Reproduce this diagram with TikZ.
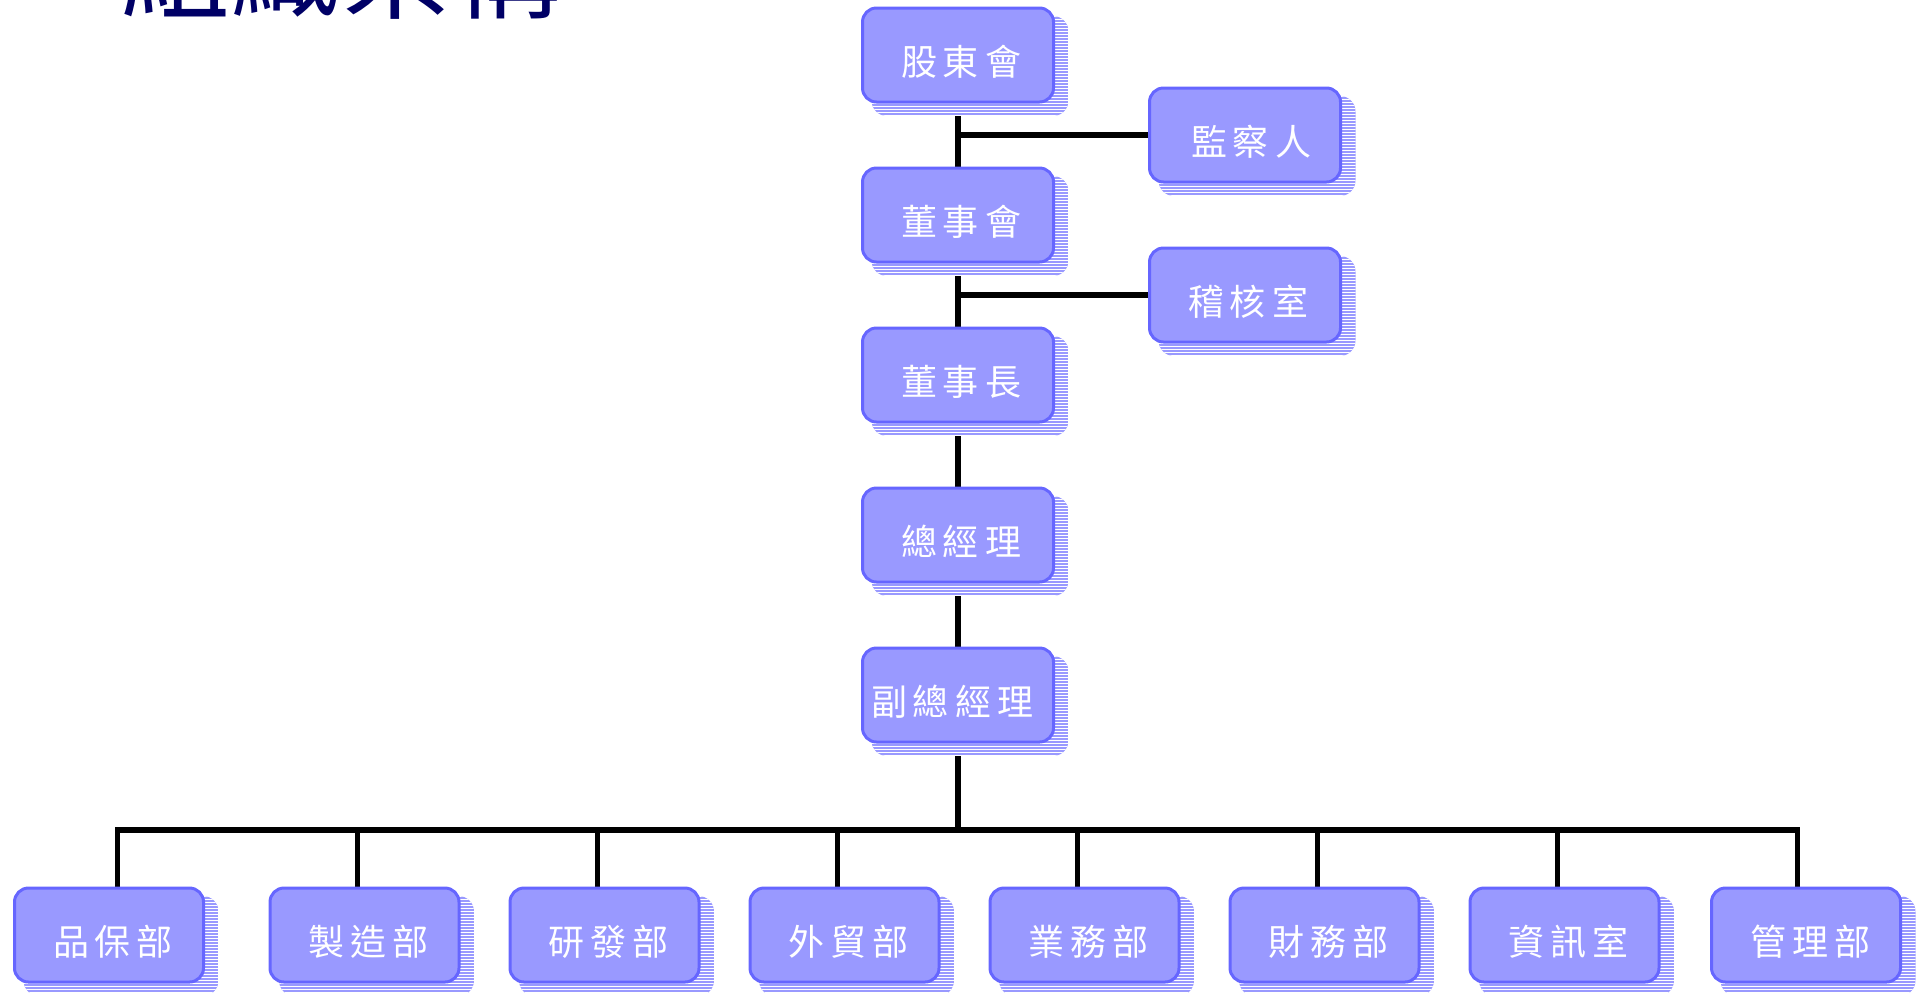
\documentclass[tikz,border=0pt]{standalone}
\usepackage{fontspec}
\newfontfamily\cjk{Noto Sans CJK TC}
\usetikzlibrary{calc}
\pgfdeclarelayer{lines}
\pgfdeclarelayer{shad}
\pgfsetlayers{lines,shad,main}
\definecolor{boxfill}{HTML}{9999FF}
\definecolor{boxline}{HTML}{6666FF}
\definecolor{navy}{HTML}{000066}
\newcommand\gk{\kern3pt}
\newcommand\shadowof[1]{%
 \begin{pgfonlayer}{shad}
  \begin{scope}
   \clip[rounded corners=7.75pt] ($(#1.north west)+(10.5,9.5)$) rectangle ($(#1.south east)+(13.5,12.5)$);
   \fill[boxfill] ($(#1.north west)+(10.5,9.5)$) rectangle ($(#1.south east)+(13.5,12.5)$);
   \foreach \k in {0,...,36} \draw[white,line width=0.5pt] ($(#1.north west)+(0,9.5+3*\k)$) -- ++(240,0);
  \end{scope}
 \end{pgfonlayer}}
\begin{document}
\begin{tikzpicture}[x=0.5pt,y=-0.5pt,
  box/.style={draw=boxline, fill=boxfill, line width=1.5pt, rounded corners=7pt,
    minimum width=95.5pt, minimum height=47pt, inner sep=0pt, text=white,
    font=\cjk\fontsize{18pt}{18pt}\selectfont, text height=20pt, text depth=0pt},
  dept/.style={box, minimum width=94.5pt},
  conn/.style={draw=black, line width=2.8pt}]
\useasboundingbox (0,0) rectangle (1921,992);
% title (cut off at the top)
\node[anchor=base west, inner sep=0pt, text=navy, font=\cjk\fontsize{55pt}{55pt}\selectfont] (title) at (120,10) {組織架構};
% central column
\node[box] (gd) at (958,55) {\kern3pt 股\gk 東\gk 會};
\node[box] (ds) at (958,215) {\kern3pt 董\gk 事\gk 會};
\node[box] (dz) at (958,375) {\kern3pt 董\gk 事\gk 長};
\node[box] (zj) at (958,535) {\kern3pt 總\gk 經\gk 理};
\node[box] (fz) at (958,695) {副\gk 總\gk 經\gk 理\kern6pt};
% side boxes
\node[box] (jc) at (1245,135) {\kern6pt 監\gk 察\gk 人};
\node[box] (jh) at (1245,295) {\kern3pt 稽\gk 核\gk 室};
% departments
\node[dept] (p1) at (109,935) {\kern4pt 品\gk 保\gk 部};
\node[dept] (p2) at (364.5,935) {\kern4pt 製\gk 造\gk 部};
\node[dept] (p3) at (604.5,935) {\kern4pt 研\gk 發\gk 部};
\node[dept] (p4) at (844.5,935) {\kern4pt 外\gk 貿\gk 部};
\node[dept] (p5) at (1084.5,935) {\kern4pt 業\gk 務\gk 部};
\node[dept] (p6) at (1324.5,935) {\kern4pt 財\gk 務\gk 部};
\node[dept] (p7) at (1564.5,935) {\kern4pt 資\gk 訊\gk 室};
\node[dept] (p8) at (1806,935) {\kern4pt 管\gk 理\gk 部};
% shadows
\foreach \n in {gd,ds,dz,zj,fz,jc,jh,p1,p2,p3,p4,p5,p6,p7,p8} {\shadowof{\n}}
% connectors
\coordinate (bus) at (958,830);
\coordinate (b1) at (117.5,830);
\coordinate (b2) at (357.5,830);
\coordinate (b3) at (597.5,830);
\coordinate (b4) at (837.5,830);
\coordinate (b5) at (1077.5,830);
\coordinate (b6) at (1317.5,830);
\coordinate (b7) at (1557.5,830);
\coordinate (b8) at (1797.5,830);
\begin{pgfonlayer}{lines}
\draw[conn] (gd.center) -- (bus);
\draw[conn] (gd.center |- jc.west) -- (jc.west);
\draw[conn] (gd.center |- jh.west) -- (jh.west);
\draw[conn, line join=miter] (b1 |- p1.north) -- (b1) -- (b8) -- (b8 |- p8.north);
\foreach \i in {2,...,7} {\draw[conn] (b\i) -- (b\i |- p\i.north);}
\end{pgfonlayer}
\end{tikzpicture}
\end{document}
